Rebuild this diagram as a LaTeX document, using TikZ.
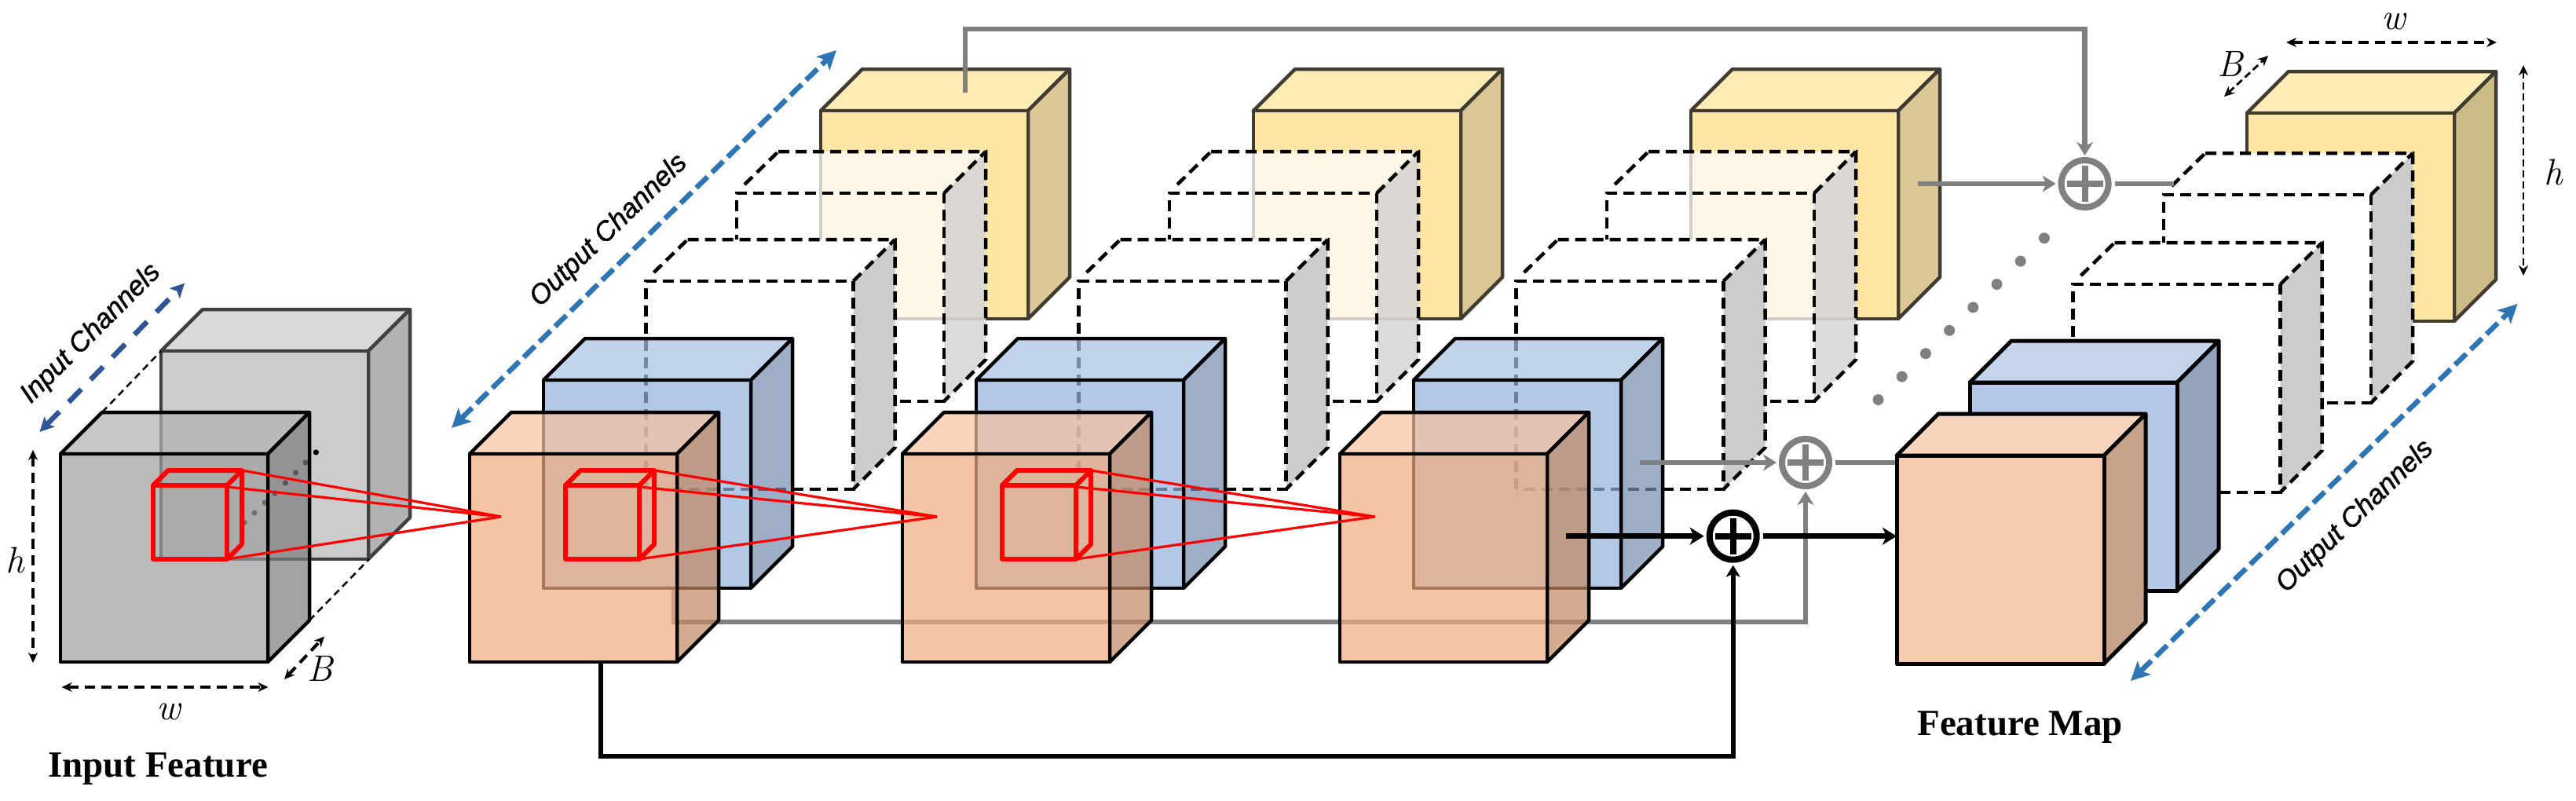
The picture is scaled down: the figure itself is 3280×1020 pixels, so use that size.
\documentclass[tikz,border=0pt]{standalone}
\usepackage{fontspec}
\usetikzlibrary{arrows.meta}
\newfontfamily\titlefont{Liberation Serif}
\newfontfamily\chanfont[ItalicFeatures={FakeBold=1.2}]{Liberation Sans}
\definecolor{orF}{RGB}{241,172,126}
\definecolor{orT}{RGB}{248,194,159}
\definecolor{orS}{RGB}{195,136,98}
\definecolor{orFo}{RGB}{247,203,173}
\definecolor{orTo}{RGB}{248,213,189}
\definecolor{orSo}{RGB}{197,162,137}
\definecolor{blF}{RGB}{148,177,219}
\definecolor{blT}{RGB}{169,194,228}
\definecolor{blS}{RGB}{117,141,176}
\definecolor{blFo}{RGB}{180,200,230}
\definecolor{blTo}{RGB}{195,212,236}
\definecolor{blSo}{RGB}{147,163,188}
\definecolor{yeF}{RGB}{255,230,165}
\definecolor{yeT}{RGB}{255,236,180}
\definecolor{yeS}{RGB}{220,200,150}
\definecolor{yeSb}{RGB}{205,187,135}
\definecolor{yeB}{RGB}{64,60,50}
\definecolor{grB}{RGB}{64,64,64}
\definecolor{lineGray}{RGB}{128,128,128}
\definecolor{chanBlue}{RGB}{46,117,182}
\definecolor{inBlue}{RGB}{47,85,151}
\tikzset{
  x=1pt,y=-1pt,
  dashedge/.style={draw=black,line width=4.5pt,dash pattern=on 14pt off 8pt},
  thinguide/.style={draw=black,line width=2.5pt,dash pattern=on 9pt off 6pt},
  dimarrow/.style={draw=black,line width=4pt,dash pattern=on 13pt off 8pt,{Stealth[length=13pt,width=12pt]}-{Stealth[length=13pt,width=12pt]}},
  dimarrowthin/.style={dimarrow,line width=2.8pt,dash pattern=on 9pt off 5pt},
  chanarrow/.style={draw=chanBlue,line width=6.5pt,dash pattern=on 20pt off 8pt,{Stealth[length=24pt,width=24pt,inset=6pt]}-{Stealth[length=24pt,width=24pt,inset=6pt]}},
  inarrow/.style={draw=inBlue,line width=6.5pt,dash pattern=on 23pt off 17pt,{Stealth[length=18pt,width=18pt,inset=4pt]}-{Stealth[length=18pt,width=18pt,inset=4pt]}},
  grayflow/.style={draw=lineGray,line width=6.5pt},
  blackflow/.style={draw=black,line width=7pt},
  grayhead/.style={-{Stealth[length=17pt,width=21pt,inset=5pt]}},
  sumnode/.style={circle,draw=#1,line width=8pt,minimum size=60pt,inner sep=0pt,
    path picture={\draw[#1,line width=8pt]
      (path picture bounding box.center) ++(-23,0) -- ++(46,0)
      (path picture bounding box.center) ++(0,-23) -- ++(0,46);}},
  titlelabel/.style={font=\titlefont\bfseries\fontsize{47}{50}\selectfont,text=black,inner sep=0pt,anchor=base},
  chanlabel/.style={font=\chanfont\itshape\fontsize{35}{40}\selectfont,text=black,inner sep=0pt},
  dimlabel/.style={font=\itshape\fontsize{47}{50}\selectfont,text=black,inner sep=0pt},
  redcubeline/.style={draw=red,line width=6pt,line join=round},
  redray/.style={draw=red,line width=3.2pt,line join=round},
}
% #1 x, #2 y, #3 front, #4 top, #5 side, #6 border, #7 line width, #8 fill opacity
\newcommand{\solidcube}[8]{%
  \begin{scope}[shift={(#1,#2)},line join=round]
    \path[fill=#4,fill opacity=#8,draw=#6,draw opacity=1,line width=#7] (0,0) -- (53,-53) -- (317,-53) -- (264,0) -- cycle;
    \path[fill=#5,fill opacity=#8,draw=#6,draw opacity=1,line width=#7] (264,0) -- (317,-53) -- (317,212) -- (264,265) -- cycle;
    \path[fill=#3,fill opacity=#8,draw=#6,draw opacity=1,line width=#7] (0,0) rectangle (264,265);
  \end{scope}}
% #1 x, #2 y, #3 face opacity, #4 side opacity
\newcommand{\dashcube}[4]{%
  \begin{scope}[shift={(#1,#2)}]
    \fill[white,fill opacity=#3] (0,0) -- (53,-53) -- (317,-53) -- (264,0) -- cycle;
    \fill[white,fill opacity=#3] (0,0) rectangle (264,265);
    \fill[white,fill opacity=#4] (264,0) -- (317,-53) -- (317,212) -- (264,265) -- cycle;
    \fill[black!20,fill opacity=#4] (264,0) -- (317,-53) -- (317,212) -- (264,265) -- cycle;
    \path[dashedge] (0,265) -- (0,0) -- (264,0) -- (264,265) -- cycle;
    \path[dashedge] (53,-53) -- (317,-53) -- (317,212) -- (264,265);
    \path[dashedge] (10,-11) -- (53,-53);
    \path[dashedge] (264,0) -- (317,-53);
  \end{scope}}
% #1 x left, #2 apex x
\newcommand{\redcube}[2]{%
  \path[redray] (#1+113,599) -- (#2,658);
  \path[redray] (#1+94,620) -- (#2,658);
  \path[redray] (#1+94,712) -- (#2,658);
  \path[redcubeline] (#1,618) rectangle (#1+94,712);
  \path[redcubeline] (#1,618) -- (#1+19,599) -- (#1+113,599) -- (#1+113,693) -- (#1+94,712);
  \path[redcubeline] (#1+94,618) -- (#1+113,599);}
\begin{document}
\begin{tikzpicture}
\useasboundingbox (0,0) rectangle (3280,1020);
\fill[white] (0,0) rectangle (3280,1020);

% input feature
\solidcube{205}{447}{black!20}{black!15}{black!30}{grB}{4.5pt}{1}
\foreach \px/\py in {402.4/576,389/589,376.6/602,363.4/615,350/628,337/640,324/653,311/665.5}
  \fill[black] (\px,\py) circle[radius=3.6];
\path[thinguide] (130,525) -- (205,447);
\path[thinguide] (394,790) -- (470,712);
\solidcube{77}{578}{black!38}{black!30}{black!51}{black}{4.5pt}{.7}

% back layers of columns
\foreach \dx in {0,551,1108}{
  \solidcube{1045+\dx}{141}{yeF}{yeT}{yeS}{yeB}{4.5pt}{1}
  \dashcube{938+\dx}{246}{.75}{.7}
  \dashcube{822.5+\dx}{358}{1}{1}
  \solidcube{692+\dx}{484}{blF}{blT}{blS}{black}{4.5pt}{.7}
}
% last column
\solidcube{2861}{144}{yeF}{yeT}{yeSb}{yeB}{4.5pt}{1}
\dashcube{2755}{248}{1}{1}
\dashcube{2639.5}{362}{1}{1}
\solidcube{2508}{487}{blFo}{blTo}{blSo}{black}{5pt}{1}

% anchors of the connectors
\coordinate (yellowTap) at (1229,118);
\coordinate (yellowOut) at (2442,234);
\coordinate (blueOut) at (2087.5,589);
\coordinate (orangeOut) at (1994,682.7);
\coordinate (orangeBack) at (858,751);
\coordinate (orangeFoot) at (764.6,843);
\coordinate (dashIn) at (2767.5,234);
\coordinate (blueIn) at (2415,589);
\coordinate (orangeIn) at (2415,682.7);
\node[sumnode=lineGray] (sumTop) at (2654.6,234) {};
\node[sumnode=lineGray] (sumMid) at (2299,589) {};
\node[sumnode=black] (sumLow) at (2206.7,682.7) {};

% gray connector that passes behind the orange cubes
\draw[grayflow,grayhead,shorten >=3pt] (orangeBack) |- (2299,792) -- (sumMid.south);

% orange cubes
\solidcube{598}{578}{orF}{orT}{orS}{black}{4.5pt}{.7}
\solidcube{1149}{578}{orF}{orT}{orS}{black}{4.5pt}{.7}
\solidcube{1706}{578}{orF}{orT}{orS}{black}{4.5pt}{.7}

% other connectors
\draw[grayflow,grayhead,shorten >=2pt] (yellowTap) |- (2654.6,37) -- (sumTop.north);
\draw[grayflow,grayhead,shorten >=3pt] (yellowOut) -- (sumTop.west);
\draw[grayflow,shorten <=4pt] (sumTop.east) -- (dashIn);
\draw[grayflow,grayhead,shorten >=3pt] (blueOut) -- (sumMid.west);
\draw[grayflow,shorten <=4pt] (sumMid.east) -- (blueIn);
\draw[blackflow,-{Stealth[length=18pt,width=22pt,inset=5pt]},shorten >=3pt] (orangeOut) -- (sumLow.west);
\draw[blackflow,-{Stealth[length=18pt,width=22pt,inset=5pt]},shorten <=4pt] (sumLow.east) -- (orangeIn);
\draw[draw=black,line width=6pt,-{Stealth[length=15pt,width=18pt,inset=4pt]},shorten >=3pt] (orangeFoot) |- (2206.7,962.5) -- (sumLow.south);

% final orange cube
\solidcube{2415}{580}{orFo}{orTo}{orSo}{black}{5pt}{1}

% dots
\foreach \i in {0,...,7}
  \fill[lineGray] (2391.5+30.2*\i,509-29.4*\i) circle[radius=7];

% red receptive fields
\redcube{195}{638}
\redcube{720}{1193}
\redcube{1276}{1750.5}

% dimension arrows
\coordinate (hA) at (42,573);   \coordinate (hB) at (42,844);
\coordinate (wA) at (78.6,875); \coordinate (wB) at (341.5,875);
\coordinate (bA) at (362,865);  \coordinate (bB) at (413,810.5);
\coordinate (wC) at (2911,54);  \coordinate (wD) at (3179,54);
\coordinate (bC) at (2832,123); \coordinate (bD) at (2888,71);
\coordinate (hC) at (3213,83);  \coordinate (hD) at (3213,351);
\path[dimarrow] (hA) -- (hB);
\path[dimarrow] (wA) -- (wB);
\path[dimarrow] (bA) -- (bB);
\path[dimarrow] (wC) -- (wD);
\path[dimarrowthin] (bC) -- (bD);
\path[dimarrowthin] (hC) -- (hD);

% channel arrows
\coordinate (inA) at (50.5,550);  \coordinate (inB) at (235,360.6);
\coordinate (outA) at (575,545);  \coordinate (outB) at (1065,64);
\coordinate (outC) at (2713,867); \coordinate (outD) at (3205.5,387);
\path[inarrow] (inA) -- (inB);
\path[chanarrow] (outA) -- (outB);
\path[chanarrow] (outC) -- (outD);

% labels
\node[chanlabel,rotate=45] (inChan) at (116,425) {Input Channels};
\node[chanlabel,rotate=44] (outChanA) at (775.5,294) {Output Channels};
\node[chanlabel,rotate=44] (outChanB) at (2999,658) {Output Channels};
\node[titlelabel] (inTitle) at (201,989) {Input Feature};
\node[titlelabel] (mapTitle) at (2572,936) {Feature Map};
\node[dimlabel] (hLeft) at (19,713) {h};
\node[dimlabel] (wLeft) at (215,906) {w};
\node[dimlabel] (bLeft) at (407.6,851) {B};
\node[dimlabel] (wRight) at (3047.6,27.5) {w};
\node[dimlabel] (bRight) at (2840,81) {B};
\node[dimlabel] (hRight) at (3251,219) {h};
\end{tikzpicture}
\end{document}
